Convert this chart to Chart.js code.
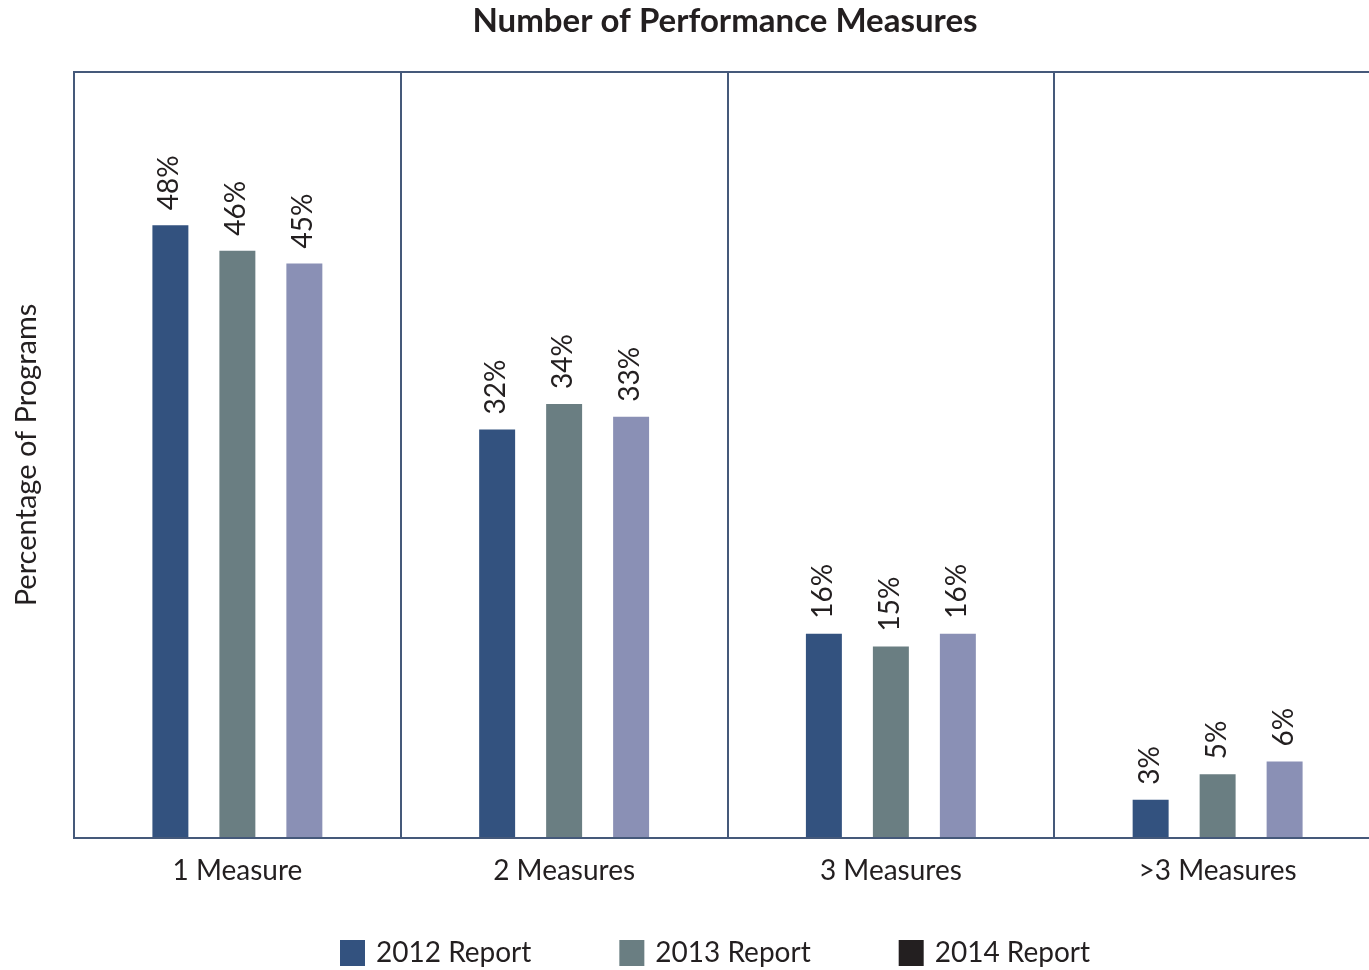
<!DOCTYPE html>
<html>
<head>
<meta charset="utf-8">
<script src="https://cdn.jsdelivr.net/npm/chart.js@4/dist/chart.umd.min.js"></script>
<style>
	html, body { margin: 0; padding: 0; background: #fff; overflow: hidden; }
	#wrap { position: relative; width: 1381px; height: 970px; }
</style>
</head>
<body>
<div id="wrap"><canvas id="cntx_measures"></canvas></div>
<script>
const categories = ["1 Measure", "2 Measures", "3 Measures", ">3 Measures"];
const series_names = ["2012 Report", "2013 Report", "2014 Report"];
const values_2012 = [48, 32, 16, 3];
const values_2013 = [46, 34, 15, 5];
const values_2014 = [45, 33, 16, 6];
const chart_title = "Number of Performance Measures";
const y_title = "Percentage of Programs";

const bar_colors = ["#33527f", "#6a7e82", "#8a90b5"];
// the legend swatch for 2014 is black in the original
const legend_colors = ["#33527f", "#6a7e82", "#231f20"];
const line_color = "#45597a";
const text_color = "#231f20";
const font_family = "Lato, 'Open Sans', sans-serif";

const valueLabels = {
	id: "valueLabels",
	afterDatasetsDraw: (chart) => {
		const ctx = chart.ctx;
		ctx.save();
		ctx.fillStyle = text_color;
		ctx.font = "28px " + font_family;
		ctx.textAlign = "left";
		ctx.textBaseline = "middle";
		chart.data.datasets.forEach((ds, i) => {
			chart.getDatasetMeta(i).data.forEach((bar, j) => {
				ctx.save();
				ctx.translate(bar.x - 1, bar.y - 15);
				ctx.rotate(-Math.PI / 2);
				ctx.fillText(ds.data[j] + "%", 0, 0);
				ctx.restore();
			});
		});
		ctx.restore();
	},
};

const decor = {
	id: "decor",
	afterDraw: (chart) => {
		const ctx = chart.ctx;
		ctx.save();
		// title
		ctx.fillStyle = text_color;
		ctx.font = "bold 33px " + font_family;
		ctx.textAlign = "center";
		ctx.textBaseline = "middle";
		ctx.fillText(chart_title, 725, 21);
		// legend
		ctx.font = "28px " + font_family;
		ctx.textAlign = "left";
		let x = 340;
		series_names.forEach((name, i) => {
			ctx.fillStyle = legend_colors[i];
			ctx.fillRect(x, 940, 25, 26);
			ctx.fillStyle = text_color;
			ctx.fillText(name, x + 36, 953);
			x += 36 + ctx.measureText(name).width + 88;
		});
		ctx.restore();
	},
};

drawChart = (canvas) => {
	const myChart = new Chart(canvas, {
		type: "bar",
		data: {
			labels: categories,
			datasets: [
				{ label: series_names[0], data: values_2012, backgroundColor: bar_colors[0] },
				{ label: series_names[1], data: values_2013, backgroundColor: bar_colors[1] },
				{ label: series_names[2], data: values_2014, backgroundColor: bar_colors[2] },
			],
		},
		options: {
			responsive: true,
			maintainAspectRatio: false,
			animation: false,
			layout: { padding: { top: 72, left: 0, right: 0, bottom: 0 } },
			datasets: {
				bar: { categoryPercentage: 0.615, barPercentage: 0.537 },
			},
			plugins: {
				legend: { display: false },
				title: { display: false },
				tooltip: { enabled: false },
			},
			scales: {
				x: {
					grid: {
						offset: true,
						color: line_color,
						lineWidth: 2,
						drawTicks: false,
					},
					border: { color: line_color, width: 2 },
					ticks: {
						color: text_color,
						font: { family: font_family, size: 28 },
						padding: 16,
					},
					afterFit: (scale) => { scale.height = 132; },
				},
				y: {
					min: 0,
					max: 60,
					ticks: { display: false, stepSize: 60 },
					grid: {
						drawTicks: false,
						lineWidth: 2,
						color: (c) => (c.tick && c.tick.value === 60 ? line_color : "rgba(0,0,0,0)"),
					},
					border: { color: line_color, width: 2 },
					title: {
						display: true,
						text: y_title,
						color: text_color,
						font: { family: font_family, size: 29 },
						padding: { top: 9, bottom: 0 },
					},
					afterFit: (scale) => { scale.width = 74; },
				},
			},
		},
		plugins: [valueLabels, decor],
	});
};
drawChart(document.querySelector("#cntx_measures"));
</script>
</body>
</html>
